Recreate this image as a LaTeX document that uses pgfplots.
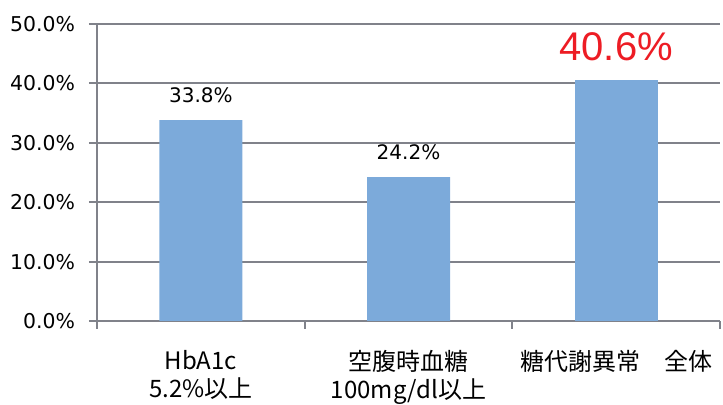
\documentclass[border=0pt]{standalone}
\usepackage{pgfplots}
\pgfplotsset{compat=1.18}
\usepackage{fontspec}
\setmainfont{DejaVu Sans}
\newfontfamily\jpfont{Noto Sans CJK JP}
\newfontfamily\redfont{Liberation Sans}
\definecolor{barblue}{RGB}{124,170,218}
\definecolor{gridgray}{RGB}{128,130,138}
\definecolor{labred}{RGB}{237,28,36}
\begin{document}
\begin{tikzpicture}
\useasboundingbox (-48.5pt,-42pt) rectangle (313pt,160.5pt);
\begin{axis}[
  scale only axis,
  width=311.5pt, height=148.5pt,
  ymin=0, ymax=50,
  xmin=-0.5, xmax=2.5,
  ytick={0,10,20,30,40,50},
  yticklabel={\pgfmathprintnumber[fixed,fixed zerofill,precision=1]{\tick}\%},
  /pgf/number format/assume math mode=true,
  xtick={0,1,2},
  xticklabels={{\jpfont HbA1c\\\jpfont 5.2\%以上},{\jpfont 空腹時血糖\\\jpfont 100mg/dl以上},{\jpfont 糖代謝異常　全体}},
  xticklabel style={align=center, font=\fontsize{12pt}{14pt}\selectfont, yshift=-7pt},
  yticklabel style={font=\fontsize{10.2pt}{12pt}\selectfont, xshift=-3.5pt},
  minor xtick={-0.5,0.5,1.5,2.5},
  major x tick style={draw=none},
  minor x tick style={draw=gridgray, line width=1pt},
  minor tick length=4pt,
  major tick length=4pt,
  tick align=outside,
  y tick style={draw=gridgray, line width=1pt},
  ymajorgrids,
  grid style={draw=gridgray, line width=1pt},
  axis x line*=bottom,
  axis y line*=left,
  axis line style={draw=gridgray, line width=1pt},
  ybar, bar width=41.5pt, bar shift=0pt,
  clip=false,
]
\addplot[fill=barblue, draw=none, nodes near coords={\pgfmathprintnumber[fixed,fixed zerofill,precision=1]{\pgfplotspointmeta}\%},
  nodes near coords style={font=\fontsize{10pt}{12pt}\selectfont, black, yshift=5pt},
  point meta=y] coordinates {(0,33.8) (1,24.2)};
\addplot[fill=barblue, draw=none, nodes near coords={\redfont\pgfmathprintnumber[fixed,fixed zerofill,precision=1]{\pgfplotspointmeta}\%},
  nodes near coords style={font=\fontsize{20pt}{24pt}\selectfont, labred, yshift=6pt},
  point meta=y] coordinates {(2,40.6)};
\end{axis}
\end{tikzpicture}
\end{document}
